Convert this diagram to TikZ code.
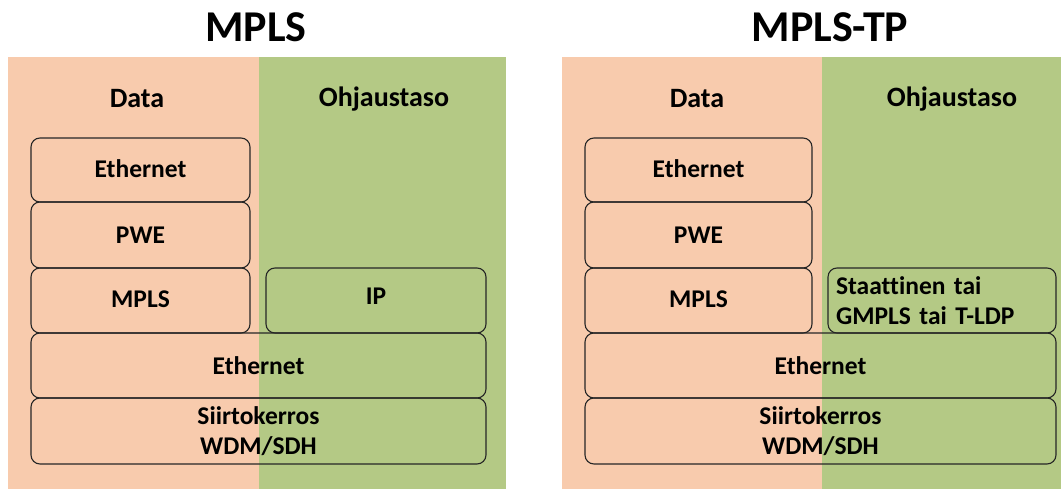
\documentclass[tikz,border=0pt]{standalone}
\usepackage{fontspec}
\setmainfont{Carlito}[Ligatures=NoCommon]
\definecolor{dataplane}{HTML}{F8CBAD}
\definecolor{ctrlplane}{HTML}{B4C985}
\begin{document}
\begin{tikzpicture}[x=1pt,y=-1pt,
  layer/.style={draw=black!85, line width=1.1pt, rounded corners=9pt,
    font=\fontsize{25.5}{30}\selectfont\bfseries, align=center, inner sep=0pt},
  head/.style={font=\fontsize{28}{30}\selectfont\bfseries, inner sep=0pt},
  title/.style={font=\fontsize{44}{48}\selectfont\bfseries, inner sep=0pt}]
\useasboundingbox (0,0) rectangle (1063,489);

% ---- MPLS stack ----
\fill[dataplane] (8,57) rectangle (259,489);
\fill[ctrlplane] (259,57) rectangle (506,489);
\node[title] (t1) at (256,27) {MPLS};
\node[head] (d1) at (137,99) {Data};
\node[head] (c1) at (384,99) {Ohjaustaso};
\node[layer, minimum width=219pt, minimum height=64pt] (eth1) at (140.5,170) {\raisebox{2pt}{Ethernet}};
\node[layer, minimum width=219pt, minimum height=66pt] (pwe1) at (140.5,235) {PWE};
\node[layer, minimum width=219pt, minimum height=65pt] (mpls1) at (140.5,300.5) {\raisebox{3pt}{MPLS}};
\node[layer, minimum width=220pt, minimum height=65pt] (ip1) at (376,300.5) {\raisebox{8pt}{IP}};
\node[layer, minimum width=455pt, minimum height=65pt] (ethw1) at (258.5,365.5) {Ethernet};
\node[layer, minimum width=455pt, minimum height=66pt] (tr1) at (258.5,431) {Siirtokerros\\WDM/SDH};

% ---- MPLS-TP stack ----
\fill[dataplane] (562,57) rectangle (822,489);
\fill[ctrlplane] (822,57) rectangle (1061,489);
\node[title] (t2) at (830,27) {MPLS-TP};
\node[head] (d2) at (697,99) {Data};
\node[head] (c2) at (952,99) {Ohjaustaso};
\node[layer, minimum width=227pt, minimum height=64pt] (eth2) at (698.5,170) {\raisebox{2pt}{Ethernet}};
\node[layer, minimum width=227pt, minimum height=66pt] (pwe2) at (698.5,235) {PWE};
\node[layer, minimum width=227pt, minimum height=65pt] (mpls2) at (698.5,300.5) {\raisebox{3pt}{MPLS}};
\node[layer, minimum width=228pt, minimum height=65pt, text width=212pt, align=left] (ctl2) at (942,300.5) {Staattinen tai\\GMPLS tai T-LDP};
\node[layer, minimum width=471pt, minimum height=65pt] (ethw2) at (820.5,365.5) {Ethernet};
\node[layer, minimum width=471pt, minimum height=66pt] (tr2) at (820.5,431) {Siirtokerros\\WDM/SDH};
\end{tikzpicture}
\end{document}
